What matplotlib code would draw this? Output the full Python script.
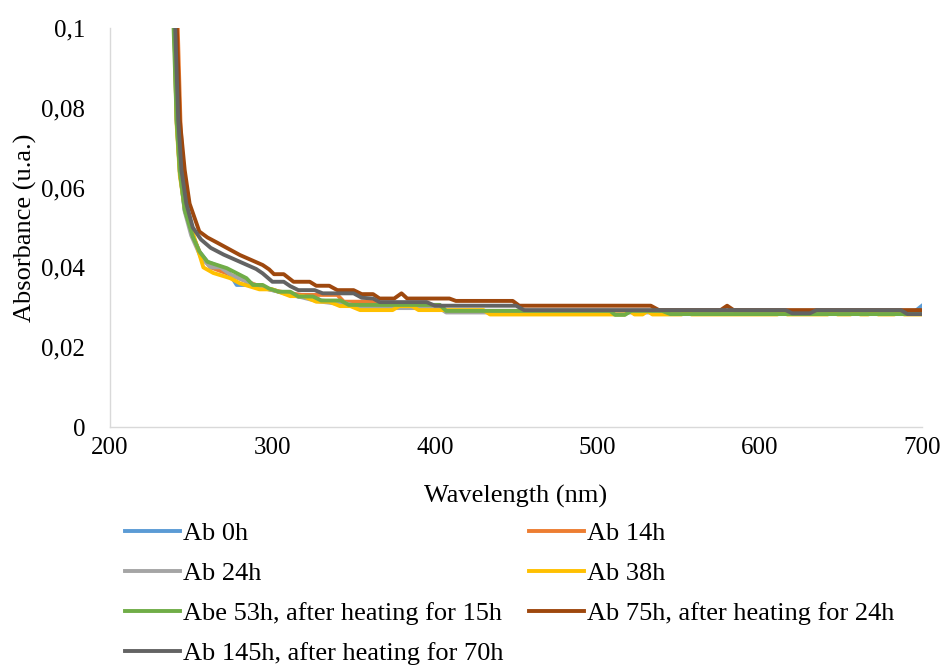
import matplotlib
matplotlib.use("Agg")
import matplotlib.pyplot as plt
from matplotlib.ticker import MultipleLocator, FuncFormatter

plt.rcParams['font.family'] = ['Liberation Serif', 'DejaVu Serif']

# values, (wavelength nm, absorbance) breakpoints per series
wl_0h = [236, 239.5, 241, 243, 246, 251, 255, 260, 272, 278, 290, 294, 298, 304, 311, 316, 325, 330, 342, 347, 403, 407, 696, 700]
ab_0h = [0.16, 0.102, 0.077, 0.064, 0.0544, 0.0477, 0.044, 0.0414, 0.0395, 0.0356, 0.0356, 0.035, 0.0345, 0.0339, 0.0335, 0.0327, 0.0327, 0.0317, 0.0312, 0.0306, 0.0306, 0.0291, 0.0291, 0.0304]

wl_14h = [236, 241.7, 243.5, 246, 251, 256, 262, 272, 284, 294, 304, 311, 318, 340, 344, 362, 366, 403, 407, 700]
ab_14h = [0.16, 0.1, 0.075, 0.058, 0.048, 0.043, 0.040, 0.0385, 0.0365, 0.035, 0.034, 0.0335, 0.0331, 0.0331, 0.0314, 0.0314, 0.0304, 0.0304, 0.0291, 0.0291]

wl_24h = [236, 239.5, 241, 243, 246, 250, 256, 262, 268, 275, 284, 292, 301, 310, 318, 328, 338, 345, 352, 356, 403, 407, 700]
ab_24h = [0.16, 0.102, 0.077, 0.064, 0.054, 0.048, 0.0425, 0.040, 0.040, 0.038, 0.0365, 0.035, 0.0342, 0.0332, 0.0325, 0.0315, 0.031, 0.031, 0.0303, 0.0298, 0.0298, 0.0287, 0.0287]

wl_38h = [236, 239.5, 241, 243, 246, 250, 257.5, 263.6, 274, 280, 292, 300, 311, 319, 327, 335, 341.6, 348, 354, 374, 378, 386, 390, 430, 434,
          517, 520, 523, 528, 531, 534, 552, 555, 558, 611, 614, 617, 642, 645, 648, 656, 659, 662, 667, 670, 673, 683, 686, 689, 700]
ab_38h = [0.16, 0.102, 0.076, 0.063, 0.055, 0.050, 0.040, 0.0386, 0.0373, 0.036, 0.0345, 0.0345, 0.0328, 0.0328, 0.0314, 0.0314, 0.0303, 0.0303, 0.0293, 0.0293, 0.0303, 0.0303, 0.0293, 0.0293, 0.0282,
          0.0282, 0.0291, 0.0282, 0.0282, 0.0291, 0.0282, 0.0282, 0.0291, 0.0282, 0.0282, 0.0291, 0.0282, 0.0282, 0.0291, 0.0282, 0.0282, 0.0291, 0.0282, 0.0282, 0.0291, 0.0282, 0.0282, 0.0291, 0.0282, 0.0282]

wl_53h = [236, 239, 241, 243, 246, 251, 255, 260, 272, 284, 288, 294, 298, 304, 311, 316, 325, 330, 342, 347, 403, 407, 508, 511, 517, 521, 540, 545, 700]
ab_53h = [0.16, 0.102, 0.077, 0.064, 0.0544, 0.0477, 0.044, 0.0414, 0.0398, 0.0373, 0.0356, 0.0356, 0.0347, 0.0339, 0.0339, 0.0327, 0.0327, 0.0317, 0.0317, 0.0306, 0.0306, 0.0291, 0.0291, 0.0281, 0.0281, 0.0291, 0.0291, 0.0283, 0.0283]

wl_75h = [236, 241, 243, 246, 249, 255, 260, 266, 280, 294, 298, 301, 307, 313, 323, 327, 335, 340, 350, 355, 362, 366, 375, 379.5, 383, 409, 413, 448, 452, 533, 538, 576, 580, 584, 700]
ab_75h = [0.16, 0.102, 0.077, 0.0644, 0.056, 0.049, 0.0475, 0.0462, 0.0431, 0.0406, 0.0395, 0.0383, 0.0383, 0.0364, 0.0364, 0.0354, 0.0354, 0.0343, 0.0343, 0.0333, 0.0333, 0.0322, 0.0322, 0.0335, 0.0322, 0.0322, 0.0316, 0.0316, 0.0304, 0.0304, 0.0293, 0.0293, 0.0304, 0.0293, 0.0293]

wl_145h = [236, 240, 242, 244, 247, 251, 256, 262, 270, 280, 290, 294, 300, 307, 311, 316, 326, 331, 350, 355, 362, 366, 395, 400, 450, 455, 616, 620, 631, 635, 687, 691, 700]
ab_145h = [0.16, 0.102, 0.077, 0.0644, 0.056, 0.050, 0.047, 0.0449, 0.0432, 0.0414, 0.0396, 0.0385, 0.0364, 0.0364, 0.0353, 0.0343, 0.0343, 0.0335, 0.0335, 0.0324, 0.0322, 0.0313, 0.0313, 0.0304, 0.0304, 0.0293, 0.0293, 0.0285, 0.0285, 0.0293, 0.0293, 0.0283, 0.0283]

labels = ["Ab 0h", "Ab 14h", "Ab 24h", "Ab 38h", "Abe 53h, after heating for 15h",
          "Ab 75h, after heating for 24h", "Ab 145h, after heating for 70h"]
colors = ["#5B9BD5", "#ED7D31", "#A5A5A5", "#FFC000", "#70AD47", "#9E480E", "#636363"]
xs = [wl_0h, wl_14h, wl_24h, wl_38h, wl_53h, wl_75h, wl_145h]
ys = [ab_0h, ab_14h, ab_24h, ab_38h, ab_53h, ab_75h, ab_145h]

fig = plt.figure(figsize=(9.46, 6.68), dpi=100)
ax = fig.add_axes([110 / 946, 1 - 427 / 668, 812 / 946, 399 / 668])

lines = []
for x, y, c, lab in zip(xs, ys, colors, labels):
    ln, = ax.plot(x, y, color=c, lw=2.8, label=lab, solid_joinstyle='round')
    lines.append(ln)

ax.set_xlim(200, 700)
ax.set_ylim(0, 0.1)
ax.xaxis.set_major_locator(MultipleLocator(100))
ax.yaxis.set_major_locator(MultipleLocator(0.02))
ax.yaxis.set_major_formatter(FuncFormatter(lambda v, p: f"{v:g}".replace('.', ',')))
ax.tick_params(axis='both', length=0, labelsize=18)
ax.tick_params(axis='y', pad=18)
ax.tick_params(axis='x', pad=7.5)

for s in ['top', 'right']:
    ax.spines[s].set_visible(False)
for s in ['left', 'bottom']:
    ax.spines[s].set_color('#d9d9d9')
    ax.spines[s].set_linewidth(1.0)

ax.set_xlabel("Wavelength (nm)", fontsize=19, va='center')
ax.xaxis.set_label_coords(0.5, -(496 - 427) / 399)
ax.set_ylabel("Absorbance (u.a.)", fontsize=19, va='center')
ax.yaxis.set_label_coords(-(110 - 25) / 812, 0.5)

# Excel fills the legend row by row
order = [0, 2, 4, 6, 1, 3, 5]
fig.legend([lines[i] for i in order], [labels[i] for i in order], ncol=2,
           loc='upper left', bbox_to_anchor=(125 / 946, 1 - 522 / 668),
           frameon=False, fontsize=19, handlelength=2.08, handletextpad=0.12,
           columnspacing=0.95, labelspacing=0.62, borderpad=0, borderaxespad=0)

fig.savefig("out.png", dpi=100)
